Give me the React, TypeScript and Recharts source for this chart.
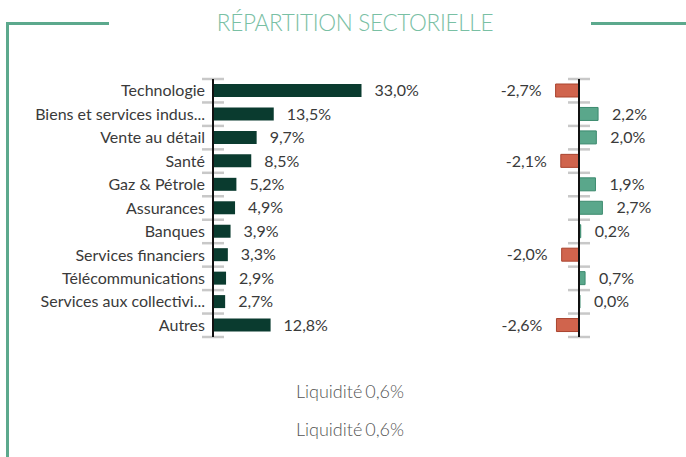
import { Bar, BarChart, CartesianGrid, Cell, LabelList, ReferenceLine, XAxis, YAxis } from 'recharts'

const sectors = [
  'Technologie',
  'Biens et services indus...',
  'Vente au détail',
  'Santé',
  'Gaz & Pétrole',
  'Assurances',
  'Banques',
  'Services financiers',
  'Télécommunications',
  'Services aux collectivi...',
  'Autres',
]
const weights = [33.0, 13.5, 9.7, 8.5, 5.2, 4.9, 3.9, 3.3, 2.9, 2.7, 12.8]
const diffs = [-2.7, 2.2, 2.0, -2.1, 1.9, 2.7, 0.2, -2.0, 0.7, 0.0, -2.6]
const liquidity = 0.6

const weightData = sectors.map((name, i) => ({ name, value: weights[i] }))
const diffData = sectors.map((name, i) => ({ name, value: diffs[i] }))

const FONT = 'Lato, "Open Sans", sans-serif'
const FRAME = '#5ca98d'
const fmt = (v: number) => v.toFixed(1).replace('.', ',') + '%'

// short grey marks at the category boundaries, around the axis
const boundaries = (n: number) => ({ offset }: any) =>
  Array.from({ length: n + 1 }, (_, i) => offset.top + (i * offset.height) / n)

const markAt = (center: (p: any) => number) => (p: any) => {
  const cx = center(p)
  return <line key={p.key} x1={cx - 11} x2={cx + 11} y1={p.y1} y2={p.y2} stroke="#c8c8c8" strokeWidth={2.5} />
}

const labelStyle = { fontFamily: FONT, fontSize: 16, fill: '#3a3a3a' }

const App = () => {
  return (
    <div style={{ position: 'absolute', left: 0, top: 0, width: 686, height: 457, background: '#fff', overflow: 'hidden' }}>
      <div style={{ position: 'absolute', left: 6, top: 22, width: 103, height: 2.5, background: FRAME }} />
      <div style={{ position: 'absolute', left: 6, top: 22, width: 2.5, height: 435, background: FRAME }} />
      <div style={{ position: 'absolute', left: 591, top: 22, width: 95, height: 2.5, background: FRAME }} />
      <div
        style={{
          position: 'absolute', left: 0, top: 9, width: 710, textAlign: 'center',
          fontFamily: FONT, fontWeight: 300, fontSize: 22.5, color: '#79c0a4', letterSpacing: -0.3,
        }}
      >
        RÉPARTITION SECTORIELLE
      </div>

      <div style={{ position: 'absolute', left: 0, top: 0 }}>
        <BarChart width={453} height={345} data={weightData} layout="vertical" margin={{ top: 79, right: 60, bottom: 8, left: 0 }}>
          <CartesianGrid
            vertical={false}
            horizontal={markAt((p) => p.x1)}
            horizontalCoordinatesGenerator={boundaries(sectors.length)}
          />
          <XAxis type="number" domain={[0, 40]} hide />
          <YAxis
            type="category"
            dataKey="name"
            width={213}
            tickLine={false}
            axisLine={{ stroke: '#111', strokeWidth: 2 }}
            tick={labelStyle}
            interval={0}
          />
          <Bar dataKey="value" fill="#0a3b2f" barSize={13} isAnimationActive={false}>
            <LabelList dataKey="value" position="right" offset={13} formatter={fmt} style={labelStyle} />
          </Bar>
        </BarChart>
      </div>

      <div style={{ position: 'absolute', left: 480, top: 0 }}>
        <BarChart width={206} height={345} data={diffData} layout="vertical" margin={{ top: 79, right: 55, bottom: 8, left: 47 }}>
          <CartesianGrid
            vertical={false}
            horizontal={markAt((p) => (p.x1 + p.x2) / 2)}
            horizontalCoordinatesGenerator={boundaries(sectors.length)}
          />
          <XAxis type="number" domain={[-6, 6]} hide />
          <YAxis type="category" dataKey="name" hide />
          <Bar dataKey="value" barSize={13} minPointSize={1} isAnimationActive={false}>
            {diffData.map((d, i) => (
              <Cell
                key={i}
                fill={d.value < 0 ? '#d0644d' : '#5aa78b'}
                stroke={d.value < 0 ? '#a9442f' : '#3c8a6e'}
              />
            ))}
            <LabelList dataKey="value" position="right" offset={14} formatter={fmt} style={labelStyle} />
          </Bar>
          <ReferenceLine x={0} stroke="#111" strokeWidth={2} />
        </BarChart>
      </div>

      {[0, 1].map((k) => (
        <div
          key={k}
          style={{
            position: 'absolute', left: 0, top: 380 + k * 38, width: 700, textAlign: 'center',
            fontFamily: FONT, fontWeight: 300, fontSize: 18, color: '#555', wordSpacing: -2,
          }}
        >
          Liquidité {fmt(liquidity)}
        </div>
      ))}
    </div>
  )
}

export default App
